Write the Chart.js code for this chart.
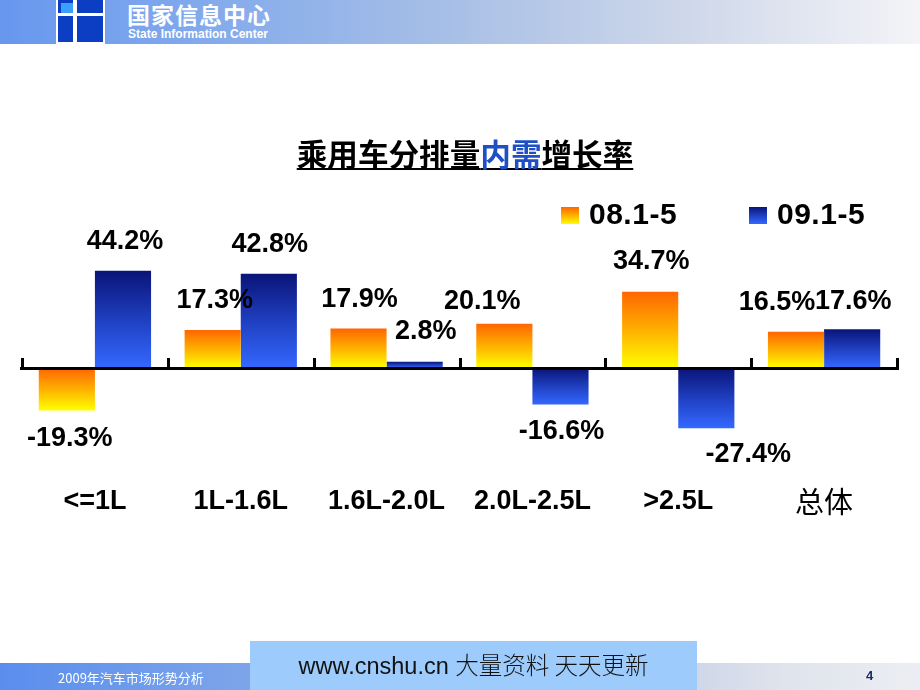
<!DOCTYPE html>
<html>
<head>
<meta charset="utf-8">
<script src="https://cdn.jsdelivr.net/npm/chart.js@4.4.1/dist/chart.umd.min.js"></script>
<style>
  html, body { margin: 0; padding: 0; background: #fff; }
  #page { position: relative; width: 920px; height: 690px; overflow: hidden; background: #fff; font-family: "Liberation Sans", Arial, sans-serif; }
  #header { position: absolute; left: 0; top: 0; width: 920px; height: 44px;
    background: linear-gradient(to right, #6797ee 0%, #86aceb 25%, #a9c0e6 50%, #cfd8ea 75%, #f4f4f7 100%); }
  #logo { position: absolute; left: 56px; top: 0; width: 45px; height: 42px; border: 2px solid #fff; border-top: none; background: #0b3ec2; overflow: hidden; }
  #logo .lb { position: absolute; left: 3px; top: 3px; width: 12px; height: 10px; background: #3aa0ff; }
  #logo .hb { position: absolute; left: 0; top: 13px; width: 45px; height: 3px; background: #fff; }
  #logo .vb { position: absolute; left: 15px; top: 0; width: 4px; height: 42px; background: #fff; }
  #hcn { position: absolute; left: 127px; top: 1px; color: #fff; font-family: "Noto Sans CJK SC", sans-serif; font-weight: bold; font-size: 23px; line-height: 26px; letter-spacing: 1px; }
  #hen { position: absolute; left: 128px; top: 27px; color: #fff; font-family: "Liberation Sans", Arial, sans-serif; font-weight: bold; font-size: 12px; line-height: 14px; }
  #title { position: absolute; left: 5px; width: 920px; top: 133px; text-align: center; font-family: "Noto Sans CJK SC", sans-serif; font-weight: bold; font-size: 30.6px; line-height: 40px; color: #000; text-decoration: underline; text-decoration-thickness: 2px; text-underline-offset: 2px; }
  #title .blue { color: #1f4fc4; }
  .lg-box { position: absolute; width: 18px; height: 17px; top: 207px; }
  .lg-txt { position: absolute; top: 199px; font-family: "Liberation Sans", Arial, sans-serif; font-weight: bold; font-size: 30px; line-height: 30px; letter-spacing: 0.5px; color: #000; }
  #chart { position: absolute; left: 0; top: 0; }
  #footer { position: absolute; left: 0; top: 663px; width: 920px; height: 27px;
    background: linear-gradient(to right, #5a8eee 0%, #7aa3ea 25%, #b4c3e2 60%, #dfe3ec 85%, #eceef3 100%); }
  #ftxt { position: absolute; left: 58px; top: 669px; color: #fff; font-family: "Noto Sans CJK SC", sans-serif; font-size: 13px; line-height: 18px; }
  #fbox { position: absolute; left: 250px; top: 641px; width: 447px; height: 49px; background: #9dcbfb; }
  #fbtxt { position: absolute; left: 0; width: 447px; top: 9px; text-align: center; font-size: 23.5px; line-height: 28px; color: #111; white-space: nowrap; }
  #fbtxt .url { font-family: "Liberation Sans Narrow", "Liberation Sans", Arial, sans-serif; }
  #fbtxt .cn { font-family: "Noto Sans CJK SC", sans-serif; font-weight: 300; }
  #pnum { position: absolute; left: 866px; top: 668px; color: #1c2a66; font-weight: bold; font-size: 13px; line-height: 16px; }
</style>
</head>
<body>
<div id="page">
  <div id="header">
    <div id="logo"><div class="lb"></div><div class="hb"></div><div class="vb"></div></div>
    <div id="hcn">国家信息中心</div>
    <div id="hen">State Information Center</div>
  </div>
  <canvas id="chart" width="920" height="690"></canvas>
  <div id="title">乘用车分排量<span class="blue">内需</span>增长率</div>
  <div class="lg-box" id="lgb0" style="left:561px"></div>
  <div class="lg-txt" id="lgt0" style="left:589px"></div>
  <div class="lg-box" id="lgb1" style="left:749px"></div>
  <div class="lg-txt" id="lgt1" style="left:777px"></div>
  <div id="footer"></div>
  <div id="ftxt">2009年汽车市场形势分析</div>
  <div id="fbox"><div id="fbtxt"><span class="url">www.cnshu.cn</span> <span class="cn">大量资料 天天更新</span></div></div>
  <div id="pnum">4</div>
</div>
<script>
// ---- data ----
const categories = ['<=1L', '1L-1.6L', '1.6L-2.0L', '2.0L-2.5L', '>2.5L', '总体'];
const seriesNames = ['08.1-5', '09.1-5'];
const values0801 = [-19.3, 17.3, 17.9, 20.1, 34.7, 16.5];
const values0901 = [44.2, 42.8, 2.8, -16.6, -27.4, 17.6];

// ---- styles ----
const gradStops = [
  ['#ff6600', '#ffb000', '#ffff00'],
  ['#0a1478', '#1f3fc0', '#3468ff']
];
// small label nudges (px) to mirror the original slide's manual label placement
const labelNudge = [
  [[3, 0], [2, 0], [1, 0], [-22, 7], [1, -1], [-19, 0]],
  [[2, 0], [1, 0], [11, -1], [1, -1], [42, -2], [1, 1]]
];

document.getElementById('lgt0').textContent = seriesNames[0];
document.getElementById('lgt1').textContent = seriesNames[1];
document.getElementById('lgb0').style.background = 'linear-gradient(' + gradStops[0].join(',') + ')';
document.getElementById('lgb1').style.background = 'linear-gradient(' + gradStops[1].join(',') + ')';

function barGradient(ctx, di) {
  const chart = ctx.chart;
  const y = chart.scales && chart.scales.y;
  const stops = gradStops[di];
  if (!y || ctx.type !== 'data' || y.top === undefined) return stops[0];
  const p0 = y.getPixelForValue(0), p1 = y.getPixelForValue(ctx.raw);
  const top = Math.min(p0, p1), bot = Math.max(p0, p1);
  const g = chart.ctx.createLinearGradient(0, top, 0, bot + 0.01);
  g.addColorStop(0, stops[0]);
  g.addColorStop(0.5, stops[1]);
  g.addColorStop(1, stops[2]);
  return g;
}

const axisPlugin = {
  id: 'zeroAxis',
  afterDatasetsDraw(chart) {
    const c = chart.ctx, x = chart.scales.x, y = chart.scales.y;
    const y0 = y.getPixelForValue(0);
    c.save();
    c.fillStyle = '#000';
    c.fillRect(x.left - 2, y0 - 1, x.right - x.left + 4, 3);
    const n = categories.length;
    const step = (x.right - x.left) / n;
    for (let i = 0; i <= n; i++) {
      const px = Math.round(x.left + step * i);
      c.fillRect(px - 1, y0 - 10, 3, 10);
    }
    // value labels
    c.font = 'bold 27px "Liberation Sans", Arial, sans-serif';
    c.textAlign = 'center';
    c.textBaseline = 'middle';
    c.fillStyle = '#000';
    chart.data.datasets.forEach((ds, di) => {
      const meta = chart.getDatasetMeta(di);
      meta.data.forEach((el, i) => {
        const v = ds.data[i];
        const nd = labelNudge[di][i];
        const cy = v >= 0 ? el.y - 29 : el.y + 28;
        c.fillText(v.toFixed(1) + '%', el.x + nd[0], cy + nd[1]);
      });
    });
    c.restore();
  }
};

new Chart(document.getElementById('chart'), {
  type: 'bar',
  data: {
    labels: categories,
    datasets: [
      { label: seriesNames[0], data: values0801, backgroundColor: ctx => barGradient(ctx, 0), borderWidth: 0, categoryPercentage: 0.77, barPercentage: 1 },
      { label: seriesNames[1], data: values0901, backgroundColor: ctx => barGradient(ctx, 1), borderWidth: 0, categoryPercentage: 0.77, barPercentage: 1 }
    ]
  },
  options: {
    responsive: false,
    animation: false,
    layout: { padding: { left: 22, right: 23, top: 258, bottom: 166 } },
    plugins: { legend: { display: false }, tooltip: { enabled: false }, title: { display: false } },
    scales: {
      x: {
        grid: { display: false, drawTicks: false },
        border: { display: false },
        ticks: {
          color: '#000',
          padding: 51,
          maxRotation: 0,
          autoSkip: false,
          font: ctx => ctx.index === 5
            ? { family: '"Noto Sans CJK SC", sans-serif', size: 29, weight: 'normal' }
            : { family: '"Liberation Sans", Arial, sans-serif', size: 27, weight: 'bold' }
        },
        afterFit: s => { s.height = 90; }
      },
      y: { display: false, min: -30, max: 50 }
    }
  },
  plugins: [axisPlugin]
});
</script>
</body>
</html>
